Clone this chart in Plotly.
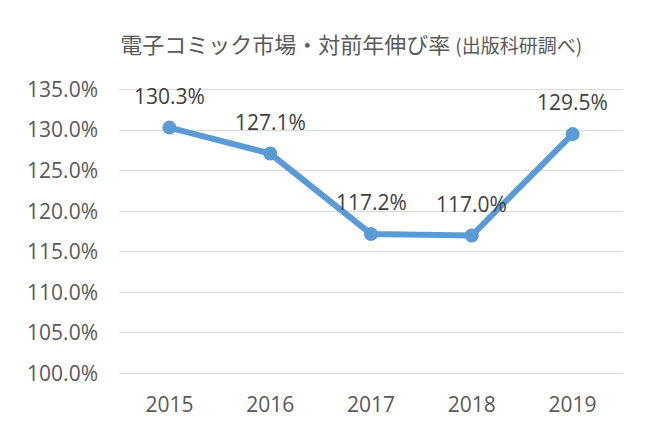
import plotly.graph_objects as go

years = ["2015", "2016", "2017", "2018", "2019"]
growth = [1.303, 1.271, 1.172, 1.170, 1.295]
y_ticks = [1.00, 1.05, 1.10, 1.15, 1.20, 1.25, 1.30, 1.35]
title_main = "電子コミック市場・対前年伸び率"
title_sub = "(出版科研調べ)"

LINE = "#5B9BD5"
TXT = "#595959"
LBL = "#404040"
GRID = "#D9D9D9"
FONT = "Open Sans, Noto Sans CJK JP, sans-serif"

fig = go.Figure()
fig.add_trace(go.Scatter(
    x=years, y=growth, mode="lines+markers",
    line=dict(color=LINE, width=6),
    marker=dict(color=LINE, size=14),
    hoverinfo="skip",
))

# data labels (category index positions on the category axis)
annotations = [
    dict(x=i, y=y, xref="x", yref="y", text=f"{y*100:.1f}%", showarrow=False,
         yshift=32, font=dict(family=FONT, size=21, color=LBL))
    for i, y in enumerate(growth)
]

fig.update_layout(
    width=660, height=440,
    margin=dict(l=111, r=45, t=79, b=72),
    paper_bgcolor="white", plot_bgcolor="white",
    showlegend=False,
    title=dict(
        text=f"{title_main} <span style='font-size:19px'>{title_sub}</span>",
        x=0.52, xanchor="center", y=1 - 37 / 440, yanchor="middle",
        font=dict(family="Noto Sans CJK JP, sans-serif", size=22, color=TXT),
    ),
    annotations=annotations,
    font=dict(family=FONT, color=TXT),
)
fig.update_xaxes(
    type="category", range=[-0.5, 4.5], showgrid=False, showline=False,
    zeroline=False, ticks="", tickfont=dict(family=FONT, size=21, color=TXT),
    ticklabelstandoff=14,
)
fig.update_yaxes(
    range=[0.997, 1.353], tickvals=y_ticks, tickformat=".1%",
    showgrid=True, gridcolor=GRID, gridwidth=1.3, zeroline=False, showline=False,
    ticks="", tickfont=dict(family=FONT, size=21, color=TXT),
    ticklabelstandoff=20,
)

fig.write_html("out.html")
